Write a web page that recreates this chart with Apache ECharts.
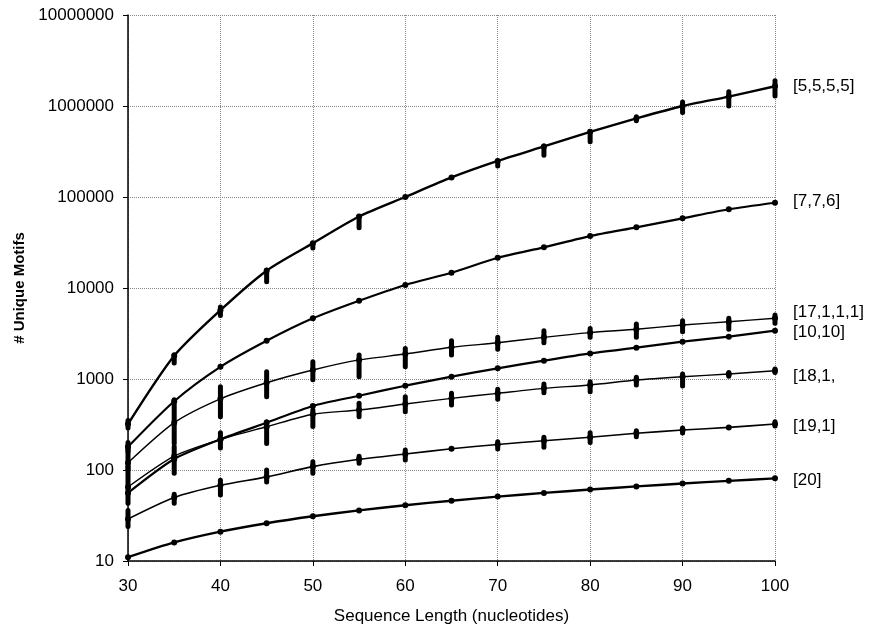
<!DOCTYPE html>
<html>
<head>
<meta charset="utf-8">
<script src="https://cdn.jsdelivr.net/npm/echarts@6/dist/echarts.min.js"></script>
<style>
html, body { margin: 0; padding: 0; background: #fff; }
#chart { width: 871px; height: 626px; }
</style>
</head>
<body>
<div id="chart"></div>
<script>
// sequence lengths
var lengths = [30, 35, 40, 45, 50, 55, 60, 65, 70, 75, 80, 85, 90, 95, 100];

// unique motif counts (main curve of each motif shape)
var m5555 = [320, 1800, 5700, 15500, 31000, 61000, 100000, 164000, 249000, 360000, 520000, 730000, 1000000, 1270000, 1650000];
var m776 = [180, 570, 1360, 2630, 4640, 7240, 10800, 14700, 21500, 28000, 37200, 46400, 58300, 73300, 86500];
var m17111 = [120, 331, 605, 910, 1256, 1620, 1880, 2230, 2500, 2870, 3230, 3520, 3920, 4260, 4650];
var m1010 = [56, 132, 217, 331, 505, 655, 844, 1060, 1310, 1590, 1910, 2210, 2570, 2920, 3400];
var m1811 = [65, 142, 217, 299, 410, 456, 531, 613, 696, 789, 860, 975, 1060, 1135, 1233];
var m191 = [29, 50, 68, 84, 109, 131, 150, 171, 191, 210, 229, 253, 275, 294, 320];
var m20 = [11, 16, 21, 26, 31, 36, 41, 46, 51, 56, 61, 66, 71, 76, 81];

// spread of the individual runs at each length: [length, low, high]
var c5555 = [[30, 290, 350], [35, 1500, 1850], [40, 5000, 6200], [45, 11700, 15800], [50, 27500, 31000],
	[55, 46000, 61000], [70, 219000, 249000], [75, 288000, 363000], [80, 405000, 522000], [85, 690000, 760000],
	[90, 850000, 1110000], [95, 1000000, 1430000], [100, 1290000, 1900000]];
var c776 = [[30, 160, 200]];
var c17111 = [[30, 100, 180], [30, 213, 213], [35, 196, 590], [40, 385, 822], [45, 640, 1200], [50, 980, 1550],
	[50, 640, 640], [55, 1060, 1840], [60, 1365, 2170], [65, 1840, 2630], [70, 2120, 2870], [75, 2510, 3400],
	[80, 2870, 3600], [85, 2870, 4020], [90, 3310, 4370], [95, 3520, 4650], [100, 4090, 5050]];
var c1811 = [[30, 43, 110], [35, 92, 180], [40, 175, 257], [45, 195, 340], [50, 300, 457], [55, 385, 540],
	[60, 437, 640], [65, 518, 696], [70, 598, 771], [75, 708, 880], [80, 724, 933], [85, 860, 1045],
	[90, 838, 1135], [95, 1070, 1180], [100, 1180, 1290]];
var c191 = [[30, 24, 36], [35, 43, 54], [40, 53, 77], [45, 74, 100], [50, 92, 123], [55, 119, 142],
	[60, 129, 166], [70, 170, 205], [75, 178, 229], [80, 200, 257], [85, 232, 270], [90, 255, 290], [100, 305, 340]];

var xTicks = [30, 40, 50, 60, 70, 80, 90, 100];
var yTicks = [10, 100, 1000, 10000, 100000, 1000000, 10000000];

var chart = echarts.init(document.getElementById('chart'));
var FONT = "'Liberation Sans', Arial, sans-serif";
var INK = '#000';

function pairs(values) {
	var out = [];
	for (var i = 0; i < lengths.length; i++) {
		out.push([lengths[i], values[i]]);
	}
	return out;
}

function lineSeries(name, values, width, offsetY) {
	return {
		name : name,
		type : 'line',
		data : pairs(values),
		smooth : 0.25,
		symbol : 'circle',
		symbolSize : 6,
		lineStyle : { color : INK, width : width },
		itemStyle : { color : INK },
		z : 3,
		endLabel : {
			show : true,
			formatter : name,
			distance : 18,
			offset : [0, offsetY],
			color : INK,
			fontFamily : FONT,
			fontSize : 17
		}
	};
}

function spreadSeries(data) {
	return {
		type : 'custom',
		data : data,
		z : 4,
		renderItem : function(params, api) {
			var lo = api.coord([api.value(0), api.value(1)]);
			var hi = api.coord([api.value(0), api.value(2)]);
			return {
				type : 'line',
				shape : { x1 : lo[0], y1 : lo[1], x2 : hi[0], y2 : hi[1] },
				style : { stroke : INK, lineWidth : 5, lineCap : 'round' }
			};
		}
	};
}

var option = {
	animation : false,
	backgroundColor : '#fff',
	textStyle : { fontFamily : FONT },
	grid : { left : 128, right : 96, top : 15, bottom : 65, outerBoundsMode : 'none', containLabel : false },
	xAxis : {
		type : 'value',
		min : 30,
		max : 100,
		interval : 10,
		name : 'Sequence Length (nucleotides)',
		nameLocation : 'middle',
		nameGap : 47,
		nameTextStyle : { color : INK, fontSize : 17, fontFamily : FONT },
		axisLine : { lineStyle : { color : INK, width : 1.5 } },
		axisTick : { show : true, length : 5, lineStyle : { color : INK } },
		axisLabel : {
			color : INK, fontSize : 17, fontFamily : FONT, margin : 17,
			formatter : function(v) { return xTicks.indexOf(v) >= 0 ? String(v) : ''; }
		},
		splitLine : { show : true, lineStyle : { color : '#888', type : 'dotted', width : 1 } }
	},
	yAxis : {
		type : 'log',
		logBase : 10,
		min : 10,
		max : 10000000,
		name : '# Unique Motifs',
		nameLocation : 'middle',
		nameGap : 101,
		nameTextStyle : { color : INK, fontSize : 15, fontWeight : 'bold', fontFamily : FONT },
		axisLine : { show : true, lineStyle : { color : INK, width : 1.5 } },
		axisTick : { show : true, length : 5, lineStyle : { color : INK } },
		axisLabel : {
			color : INK, fontSize : 17, fontFamily : FONT, margin : 14,
			formatter : function(v) {
				var r = Math.round(v);
				return yTicks.indexOf(r) >= 0 ? String(r) : '';
			}
		},
		splitLine : { show : true, lineStyle : { color : '#888', type : 'dotted', width : 1 } }
	},
	series : [
		lineSeries('[5,5,5,5]', m5555, 2.4, 0),
		lineSeries('[7,7,6]', m776, 2.2, -1),
		lineSeries('[17,1,1,1]', m17111, 1.4, -6),
		lineSeries('[10,10]', m1010, 2.2, 2),
		lineSeries('[18,1,', m1811, 1.4, 6),
		lineSeries('[19,1]', m191, 1.6, 2),
		lineSeries('[20]', m20, 2.4, 2),
		spreadSeries(c5555),
		spreadSeries(c776),
		spreadSeries(c17111),
		spreadSeries(c1811),
		spreadSeries(c191)
	]
};
chart.setOption(option);
</script>
</body>
</html>
